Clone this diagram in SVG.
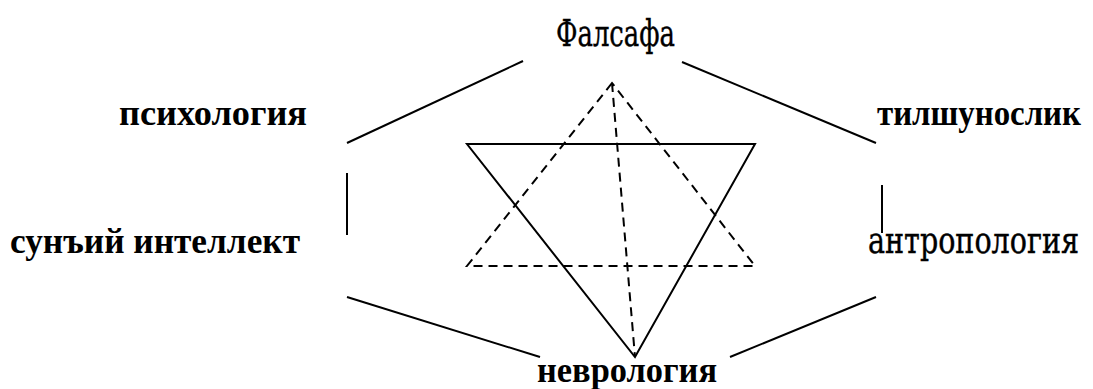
<svg xmlns="http://www.w3.org/2000/svg" width="1093" height="389" viewBox="0 0 1093 389">
<style>
.b{font-family:'Liberation Serif','DejaVu Serif',serif;font-weight:bold;font-size:36px;fill:#000}
.r{font-family:'DejaVu Serif Condensed','DejaVu Serif',serif;font-size:38px;fill:#000;stroke:#000;stroke-width:0.4}
.l{stroke:#000;stroke-width:2;fill:none}
.d{stroke:#000;stroke-width:2;fill:none;stroke-dasharray:9,6}
</style>
<rect width="1093" height="389" fill="#fff"/>
<g id="n-falsafa"><text class="r" x="556" y="46" textLength="119" lengthAdjust="spacingAndGlyphs">Фалсафа</text></g>
<g id="n-psix"><text class="b" x="119" y="125" textLength="188" lengthAdjust="spacingAndGlyphs">психология</text></g>
<g id="n-til"><text class="b" x="877" y="125" textLength="204" lengthAdjust="spacingAndGlyphs">тилшунослик</text></g>
<g id="n-ai"><text class="b" x="10" y="253" textLength="290" lengthAdjust="spacingAndGlyphs">сунъий интеллект</text></g>
<g id="n-antr"><text class="r" x="868" y="253" textLength="211" lengthAdjust="spacingAndGlyphs">антропология</text></g>
<g id="n-nevr"><text class="b" x="537" y="382" textLength="180" lengthAdjust="spacingAndGlyphs">неврология</text></g>
<g id="connectors">
<line class="l" x1="347" y1="143" x2="523" y2="61"/>
<line class="l" x1="682" y1="62" x2="876" y2="143"/>
<line class="l" x1="347" y1="173" x2="347" y2="235"/>
<line class="l" x1="882" y1="185" x2="882" y2="233"/>
<line class="l" x1="347" y1="297" x2="540" y2="357"/>
<line class="l" x1="730" y1="357" x2="876" y2="297"/>
<polygon class="l" points="467,144 755,144 635,357"/>
<polygon class="d" points="612,83 467,266 755,266"/>
<line class="d" x1="612" y1="83" x2="635" y2="357"/>
</g>
</svg>
